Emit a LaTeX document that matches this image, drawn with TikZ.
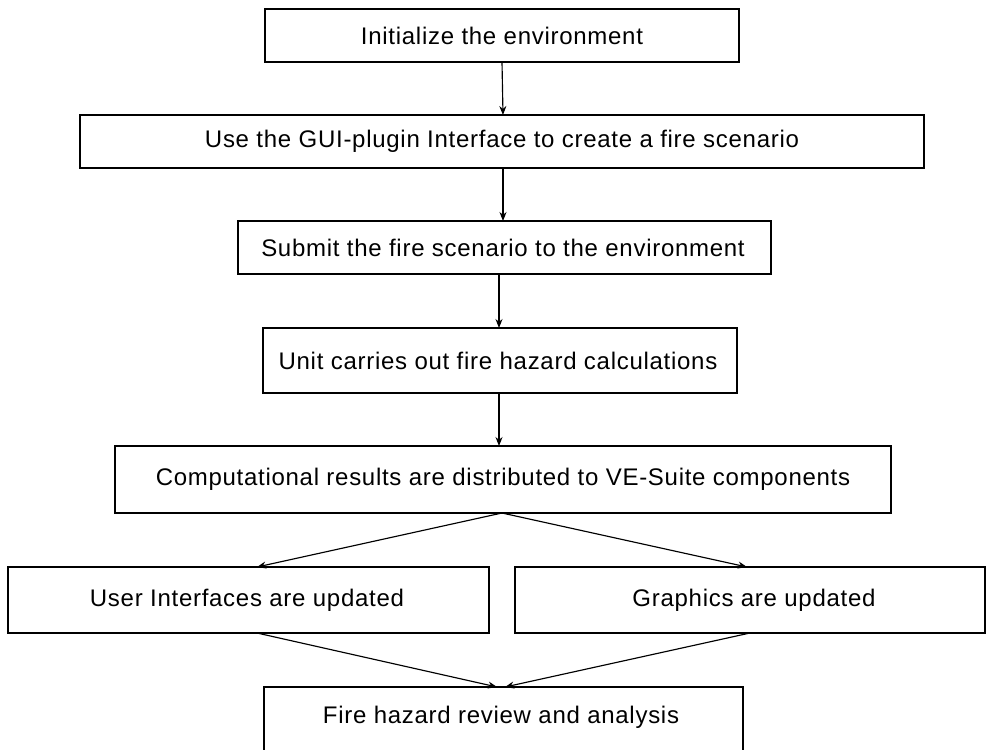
\documentclass[tikz,border=0pt]{standalone}
\usepackage{fontspec}
\setmainfont{Liberation Sans}[LetterSpace=3]
\usetikzlibrary{arrows.meta}
\begin{document}
\begin{tikzpicture}[x=1pt,y=-1pt,
  stepbox/.style={draw=black,line width=1.15pt,fill=none},
  lbl/.style={inner sep=0pt,font=\fontsize{24}{28}\selectfont,text=black},
  flow/.style={draw=black,line width=1.15pt,-{Stealth[length=9pt,width=7pt]}}]
  \useasboundingbox (0,0) rectangle (986,750);
  \clip (0,0) rectangle (986,750);
  \fill[white] (0,0) rectangle (986,750);

  % boxes, given by their corners
  \draw[stepbox] (265,9) rectangle (739,62);
  \node[lbl] (t1) at (502,35.5) {Initialize the environment};
  \coordinate (b1t) at (502,9); \coordinate (b1b) at (502,62);

  \draw[stepbox] (80,115) rectangle (924,168);
  \node[lbl] (t2) at (502,141.5) {Use the GUI-plugin Interface to create a fire scenario};
  \coordinate (b2t) at (503,115); \coordinate (b2b) at (503,168);

  \draw[stepbox] (238,221) rectangle (771,274);
  \node[lbl] (t3) at (503,247.5) {Submit the fire scenario to the environment};
  \coordinate (b3t) at (503,221); \coordinate (b3b) at (499,274);

  \draw[stepbox] (263,328) rectangle (737,393);
  \node[lbl] (t4) at (498,360.5) {Unit carries out fire hazard calculations};
  \coordinate (b4t) at (499,328); \coordinate (b4b) at (499,393);

  \draw[stepbox] (115,446) rectangle (891,513);
  \node[lbl] (t5) at (503,479.5) {Computational results are distributed to VE-Suite components};
  \coordinate (b5t) at (499,446); \coordinate (b5b) at (502,513);

  \draw[stepbox] (8,567) rectangle (489,633);
  \node[lbl] (t6) at (247,600) {User Interfaces are updated};
  \coordinate (b6t) at (257,567); \coordinate (b6b) at (257,633);

  \draw[stepbox] (515,567) rectangle (985,633);
  \node[lbl] (t7) at (754,600) {Graphics are updated};
  \coordinate (b7t) at (747,567); \coordinate (b7b) at (750,633);

  \draw[stepbox] (264,687) rectangle (743,770);
  \node[lbl] (t8) at (501,717) {Fire hazard review and analysis};
  \coordinate (b8l) at (497,687); \coordinate (b8r) at (505,687);

  % connectors
  \draw[flow] (b1b) -- (b2t);
  \draw[flow] (b2b) -- (b3t);
  \draw[flow] (b3b) -- (b4t);
  \draw[flow] (b4b) -- (b5t);
  \draw[flow] (b5b) -- (b6t);
  \draw[flow] (b5b) -- (b7t);
  \draw[flow] (b6b) -- (b8l);
  \draw[flow] (b7b) -- (b8r);
\end{tikzpicture}
\end{document}
